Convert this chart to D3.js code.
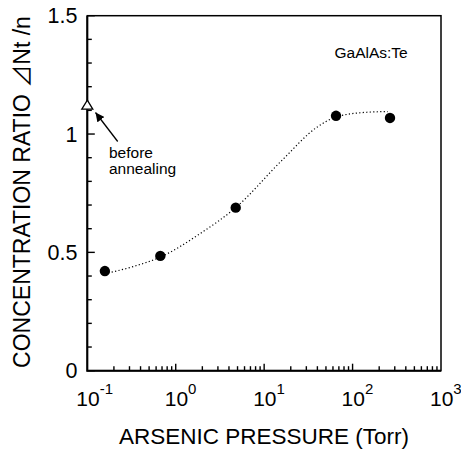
<!DOCTYPE html>
<head>
    <meta charset="utf-8">
    <title>Concentration ratio vs arsenic pressure</title>
    <style>
        body { margin: 0; background: #fff; }
        svg { font-family: "Liberation Sans", Arial, Helvetica, sans-serif; }
    </style>
</head>
<body>

<svg width="461" height="451"></svg>

<script src="https://d3js.org/d3.v7.min.js"></script>

<script>

    // measured points (pressure in Torr, ratio)
    const pressure = [0.158, 0.67, 4.77, 65, 265];
    const ratio = [0.421, 0.485, 0.689, 1.077, 1.068];

    // open triangle: before annealing
    const beforePressure = [0.1];
    const beforeRatio = [1.12];

    // dotted guide curve
    const curveX = [0.158, 0.33, 0.67, 1.9, 4.8, 16, 40, 65, 145, 250];
    const curveY = [0.41, 0.44, 0.48, 0.58, 0.69, 0.89, 1.03, 1.072, 1.092, 1.095];

    const xDecades = [-1, 0, 1, 2, 3];
    const yMajor = [0, 0.5, 1, 1.5];
    const yLabels = ["0", "0.5", "1", "1.5"];

    const svg = d3.select("svg");

    const x = d3.scaleLog().domain([0.1, 1000]).range([87.3, 441]);
    const y = d3.scaleLinear().domain([0, 1.5]).range([370.7, 15.7]);

    // minor ticks 2..9 in each decade
    const xMinor = [];
    for (let e = -1; e < 3; e++) {
        for (let m = 2; m <= 9; m++) xMinor.push(m * Math.pow(10, e));
    }
    const yMinor = d3.range(0, 16).map(i => i / 10).filter(v => yMajor.indexOf(v) < 0);

    const bottom = y(0);
    const left = x(0.1);

    // frame
    svg.append("rect")
        .attr("x", x(0.1)).attr("y", y(1.5))
        .attr("width", x(1000) - x(0.1)).attr("height", y(0) - y(1.5))
        .attr("fill", "none").attr("stroke", "#000").attr("stroke-width", 1.5);
    svg.append("path")
        .attr("d", "M" + left + "," + y(1.5) + "V" + bottom + "H" + x(1000))
        .attr("fill", "none").attr("stroke", "#000").attr("stroke-width", 2);

    // x ticks (inward)
    svg.append("g").selectAll("line")
        .data(xMinor)
        .enter().append("line")
            .attr("x1", d => x(d)).attr("x2", d => x(d))
            .attr("y1", bottom).attr("y2", bottom - 4.5)
            .attr("stroke", "#000").attr("stroke-width", 1.4);
    svg.append("g").selectAll("line")
        .data(xDecades.slice(1, 4))
        .enter().append("line")
            .attr("x1", d => x(Math.pow(10, d))).attr("x2", d => x(Math.pow(10, d)))
            .attr("y1", bottom).attr("y2", bottom - 7)
            .attr("stroke", "#000").attr("stroke-width", 1.4);

    // y ticks (inward)
    svg.append("g").selectAll("line")
        .data(yMinor)
        .enter().append("line")
            .attr("x1", left).attr("x2", left + 4.5)
            .attr("y1", d => y(d)).attr("y2", d => y(d))
            .attr("stroke", "#000").attr("stroke-width", 1.4);
    svg.append("g").selectAll("line")
        .data(yMajor)
        .enter().append("line")
            .attr("x1", left).attr("x2", left + 7.5)
            .attr("y1", d => y(d)).attr("y2", d => y(d))
            .attr("stroke", "#000").attr("stroke-width", 1.4);

    // y tick labels
    svg.append("g").selectAll("text")
        .data(yMajor)
        .enter().append("text")
            .attr("x", 77.5)
            .attr("y", d => y(d))
            .attr("dy", "0.36em")
            .attr("text-anchor", "end")
            .attr("font-size", 21.5)
            .text((d, i) => yLabels[i]);

    // x tick labels 10^n
    const xl = svg.append("g").selectAll("text")
        .data(xDecades)
        .enter().append("text")
            .attr("x", d => x(Math.pow(10, d)) - 11)
            .attr("y", 406)
            .attr("font-size", 21);
    xl.append("tspan").text("10");
    xl.append("tspan")
        .attr("dy", -12.5)
        .attr("font-size", 15)
        .text(d => d < 0 ? "-" + (-d) : d);

    // axis titles
    svg.append("text")
        .attr("x", 264).attr("y", 443.5)
        .attr("text-anchor", "middle")
        .attr("font-size", 22.5)
        .text("ARSENIC PRESSURE (Torr)");

    const yt = svg.append("text")
        .attr("transform", "translate(30,192) rotate(-90)")
        .attr("text-anchor", "middle")
        .attr("font-size", 23);
    yt.append("tspan").text("CONCENTRATION RATIO  ");
    yt.append("tspan").attr("font-family", "'Noto Sans CJK JP', 'DejaVu Sans', sans-serif").text("⊿");
    yt.append("tspan").text("Nt /n");

    // dotted curve
    const line = d3.line()
        .x(d => x(d[0]))
        .y(d => y(d[1]))
        .curve(d3.curveMonotoneX);
    svg.append("path")
        .datum(curveX.map((v, i) => [v, curveY[i]]))
        .attr("d", line)
        .attr("fill", "none")
        .attr("stroke", "#000")
        .attr("stroke-width", 1.2)
        .attr("stroke-dasharray", "1.2,2.3");

    // data points
    svg.append("g").selectAll("circle")
        .data(pressure)
        .enter().append("circle")
            .attr("cx", d => x(d))
            .attr("cy", (d, i) => y(ratio[i]))
            .attr("r", 5.2)
            .attr("fill", "#000");

    // open triangle
    svg.append("g").selectAll("path")
        .data(beforePressure)
        .enter().append("path")
            .attr("d", (d, i) => {
                const cx = x(d), cy = y(beforeRatio[i]);
                return "M" + cx + "," + (cy - 5.5) + "L" + (cx + 5.5) + "," + (cy + 3.5) + "L" + (cx - 5.5) + "," + (cy + 3.5) + "Z";
            })
            .attr("fill", "#fff")
            .attr("stroke", "#000")
            .attr("stroke-width", 1.3);

    // annotation arrow
    svg.append("defs").append("marker")
        .attr("id", "arrow")
        .attr("viewBox", "0 0 10 10")
        .attr("refX", 10).attr("refY", 5)
        .attr("markerWidth", 9).attr("markerHeight", 9)
        .attr("markerUnits", "userSpaceOnUse")
        .attr("orient", "auto")
        .append("path").attr("d", "M0,0L10,5L0,10Z").attr("fill", "#000");
    svg.append("line")
        .attr("x1", 117.7).attr("y1", 141.5)
        .attr("x2", 95.5).attr("y2", 112.5)
        .attr("stroke", "#000").attr("stroke-width", 1.3)
        .attr("marker-end", "url(#arrow)");

    const ann = svg.append("text")
        .attr("font-size", 15.5);
    ann.append("tspan").attr("x", 109).attr("y", 157.5).text("before");
    ann.append("tspan").attr("x", 109).attr("y", 174).text("annealing");

    svg.append("text")
        .attr("x", 334.5).attr("y", 57.5)
        .attr("font-size", 15.5)
        .text("GaAlAs:Te");

</script>

</body>
